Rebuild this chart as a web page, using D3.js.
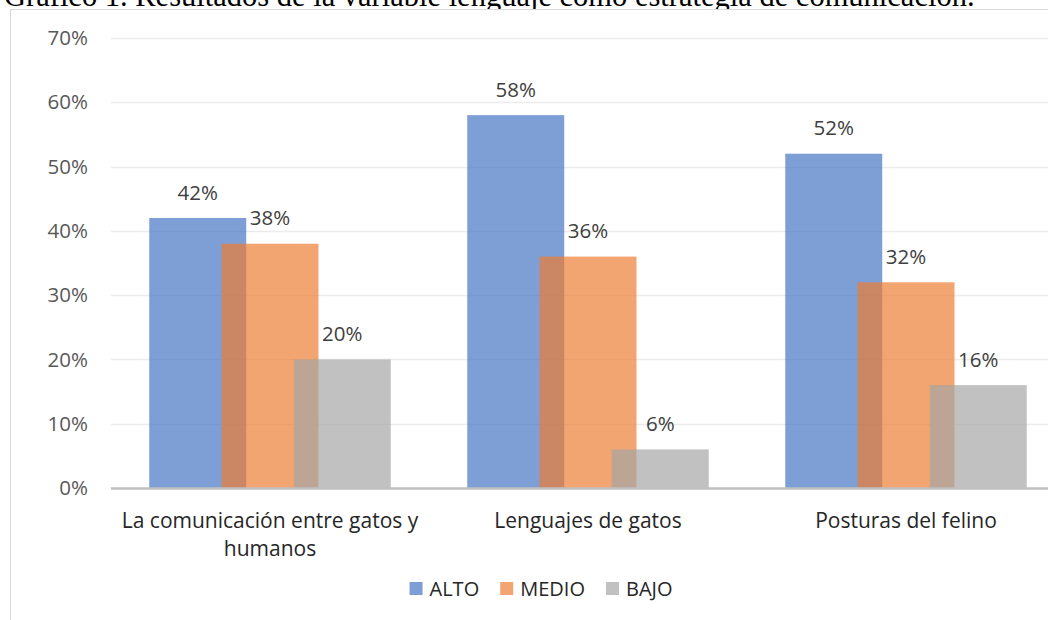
<!DOCTYPE html>
<html lang="es">
<head>
  <meta charset="UTF-8">
  <title>Gráfico 1</title>
  <script src="https://d3js.org/d3.v7.min.js"></script>
  <style>
    body { margin: 0; background: #fff; }
    text { font-family: "Open Sans", sans-serif; }
    .title { font-family: "Liberation Serif", "Times New Roman", serif; }
  </style>
</head>
<body>
  <svg width="1048" height="620"></svg>

  <script>
    var categories = [["La comunicación entre gatos y", "humanos"], ["Lenguajes de gatos"], ["Posturas del felino"]];
    var series = ["ALTO", "MEDIO", "BAJO"];
    var alto = [0.42, 0.58, 0.52];
    var medio = [0.38, 0.36, 0.32];
    var bajo = [0.20, 0.06, 0.16];
    var yTicks = [0, 0.1, 0.2, 0.3, 0.4, 0.5, 0.6, 0.7];
    var colors = ["#4472c4", "#ed7d31", "#a5a5a5"];

    var values = [alto, medio, bajo];

    var svg = d3.select("svg");

    // title, cut at the top edge like the source
    svg.append("text")
        .attr("class", "title")
        .attr("x", 4)
        .attr("y", 6)
        .attr("font-size", 30.5)
        .attr("fill", "#000")
        .text("Gráfico 1. Resultados de la variable lenguaje como estrategia de comunicación.");

    // chart frame
    svg.append("rect")
        .attr("x", 10.5).attr("y", 9.5)
        .attr("width", 1200).attr("height", 800)
        .attr("fill", "#fff")
        .attr("stroke", "#d9d9d9");

    var x = d3.scaleBand()
        .domain(d3.range(categories.length))
        .range([111, 1065])
        .padding(0);

    var y = d3.scaleLinear()
        .domain([0, 0.7])
        .range([488, 38]);

    // gridlines
    svg.append("g")
        .selectAll("line")
        .data(yTicks.slice(1))
        .enter().append("line")
        .attr("x1", 111).attr("x2", 1065)
        .attr("y1", function(d) { return Math.round(y(d)) + 0.5; })
        .attr("y2", function(d) { return Math.round(y(d)) + 0.5; })
        .attr("stroke", "#ececec")
        .attr("stroke-width", 1.5);

    // y tick labels
    svg.append("g")
        .selectAll("text")
        .data(yTicks)
        .enter().append("text")
        .attr("x", 88)
        .attr("y", function(d) { return y(d); })
        .attr("dy", "0.35em")
        .attr("text-anchor", "end")
        .attr("font-size", 20.5)
        .attr("fill", "#595959")
        .text(d3.format(".0%"));

    var barW = x.bandwidth() * 0.305;
    var step = barW * 0.745;
    var clusterW = step * (series.length - 1) + barW;

    function barX(ci, si) {
      return x(ci) + x.bandwidth() / 2 - clusterW / 2 + si * step;
    }

    var bars = svg.append("g");
    categories.forEach(function(c, ci) {
      series.forEach(function(s, si) {
        var v = values[si][ci];
        bars.append("rect")
            .attr("x", barX(ci, si))
            .attr("y", y(v))
            .attr("width", barW)
            .attr("height", y(0) - y(v))
            .attr("fill", colors[si])
            .attr("fill-opacity", 0.69);
      });
    });

    // axis line
    svg.append("line")
        .attr("x1", 111).attr("x2", 1065)
        .attr("y1", y(0) + 0.5).attr("y2", y(0) + 0.5)
        .attr("stroke", "#bfbfbf")
        .attr("stroke-width", 2.5);

    // value labels
    var labels = svg.append("g");
    categories.forEach(function(c, ci) {
      series.forEach(function(s, si) {
        var v = values[si][ci];
        labels.append("text")
            .attr("x", barX(ci, si) + barW / 2)
            .attr("y", y(v) - 18.5)
            .attr("text-anchor", "middle")
            .attr("font-size", 20.5)
            .attr("fill", "#404040")
            .text(d3.format(".0%")(v));
      });
    });

    // category labels
    var cat = svg.append("g");
    categories.forEach(function(lines, ci) {
      var t = cat.append("text")
          .attr("text-anchor", "middle")
          .attr("font-size", 21)
          .attr("fill", "#262626");
      lines.forEach(function(line, li) {
        t.append("tspan")
            .attr("x", x(ci) + x.bandwidth() / 2)
            .attr("y", 527.5 + li * 28)
            .text(line);
      });
    });

    // legend
    var legend = svg.append("g");
    var lx = 0;
    series.forEach(function(s, si) {
      var g = legend.append("g").attr("transform", "translate(" + lx + ",0)");
      g.append("rect")
          .attr("x", 0).attr("y", -7)
          .attr("width", 13).attr("height", 13)
          .attr("fill", colors[si])
          .attr("fill-opacity", 0.69);
      var t = g.append("text")
          .attr("x", 20).attr("y", 0)
          .attr("dy", "0.35em")
          .attr("font-size", 20)
          .attr("fill", "#262626")
          .text(s);
      lx += 20 + t.node().getComputedTextLength() + 21;
    });
    var legendW = lx - 21;
    legend.attr("transform", "translate(" + (541 - legendW / 2) + ",589)");
  </script>
</body>
</html>
